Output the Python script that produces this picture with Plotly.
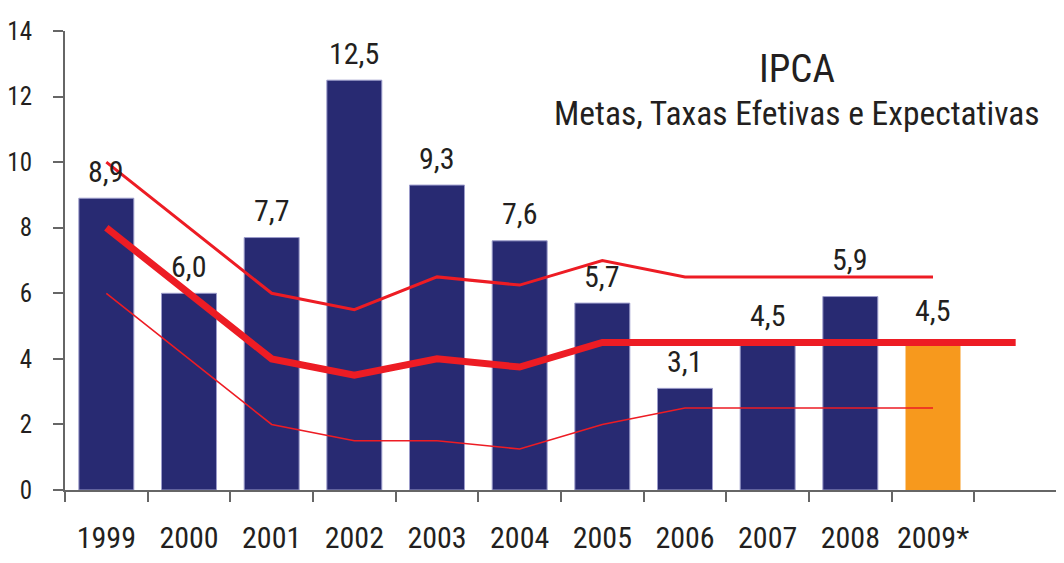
import plotly.graph_objects as go

YEARS = ["1999", "2000", "2001", "2002", "2003", "2004", "2005",
         "2006", "2007", "2008", "2009*"]
EXTRA_SLOT = " "  # empty category at the right end of the axis

IPCA = [8.9, 6.0, 7.7, 12.5, 9.3, 7.6, 5.7, 3.1, 4.5, 5.9, 4.5]
IPCA_LABELS = ["8,9", "6,0", "7,7", "12,5", "9,3", "7,6", "5,7",
               "3,1", "4,5", "5,9", "4,5"]

META = [8.0, 6.0, 4.0, 3.5, 4.0, 3.75, 4.5, 4.5, 4.5, 4.5, 4.5, 4.5]
TETO = [10.0, 8.0, 6.0, 5.5, 6.5, 6.25, 7.0, 6.5, 6.5, 6.5, 6.5]
PISO = [6.0, 4.0, 2.0, 1.5, 1.5, 1.25, 2.0, 2.5, 2.5, 2.5, 2.5]

NAVY = "#282A72"
ORANGE = "#F7991D"
RED = "#ED1C24"
TEXT = "#231F20"
AXIS = "#666666"
FONT = "Liberation Sans Narrow, Arial Narrow, Roboto Condensed, Roboto, sans-serif"

# labels that sit higher to clear the red lines
LABEL_LIFT = {"2008": 37, "2009*": 32}

bar_colors = [ORANGE if y.endswith("*") else NAVY for y in YEARS]
bar_lines = ["rgba(0,0,0,0)" if y.endswith("*") else "#9C9CCB" for y in YEARS]

fig = go.Figure()

fig.add_trace(go.Bar(
    x=YEARS, y=IPCA,
    marker=dict(color=bar_colors, line=dict(color=bar_lines, width=1)),
    hoverinfo="skip",
))

fig.add_trace(go.Scatter(
    x=YEARS, y=TETO, mode="lines",
    line=dict(color=RED, width=3), hoverinfo="skip",
))
fig.add_trace(go.Scatter(
    x=YEARS, y=PISO, mode="lines",
    line=dict(color=RED, width=1.6), hoverinfo="skip",
))
fig.add_trace(go.Scatter(
    x=YEARS + [EXTRA_SLOT], y=META, mode="lines",
    line=dict(color=RED, width=7), hoverinfo="skip",
))

# category index, since "1999" etc. would be read as numbers
for i, (year, val, lab) in enumerate(zip(YEARS, IPCA, IPCA_LABELS)):
    fig.add_annotation(
        x=i, y=val, text=lab, showarrow=False,
        yanchor="middle", yshift=LABEL_LIFT.get(year, 27),
        font=dict(family=FONT, size=30, color=TEXT),
    )

fig.add_annotation(
    x=0.738, y=0.917, xref="paper", yref="paper", text="IPCA",
    showarrow=False, xanchor="center", yanchor="middle",
    font=dict(family=FONT, size=39, color=TEXT),
)
fig.add_annotation(
    x=0.985, y=0.821, xref="paper", yref="paper",
    text="Metas, Taxas Efetivas e Expectativas",
    showarrow=False, xanchor="right", yanchor="middle",
    font=dict(family=FONT, size=33.5, color=TEXT),
)

# page body adds ~8px, so margins are trimmed by that much on left/top
fig.update_layout(
    width=1064, height=563,
    margin=dict(l=57, r=15, t=23, b=81),
    paper_bgcolor="white", plot_bgcolor="white",
    showlegend=False, bargap=0.335,
    font=dict(family=FONT, color=TEXT),
)
fig.update_xaxes(
    type="category", categoryorder="array", categoryarray=YEARS + [EXTRA_SLOT],
    range=[-0.5, 11.5], tickson="boundaries", automargin=False,
    ticks="outside", ticklen=10, tickwidth=2, tickcolor=AXIS,
    showline=True, linecolor=AXIS, linewidth=2,
    showgrid=False, ticklabelstandoff=20,
    tickfont=dict(family=FONT, size=30, color=TEXT),
)
fig.update_yaxes(
    range=[0, 14], dtick=2, tick0=0, automargin=False,
    ticks="outside", ticklen=10, tickwidth=2, tickcolor=AXIS,
    showline=True, linecolor=AXIS, linewidth=2,
    showgrid=False, zeroline=False, ticklabelstandoff=16,
    tickfont=dict(family=FONT, size=25, color=TEXT),
)

fig.write_html("out.html")
